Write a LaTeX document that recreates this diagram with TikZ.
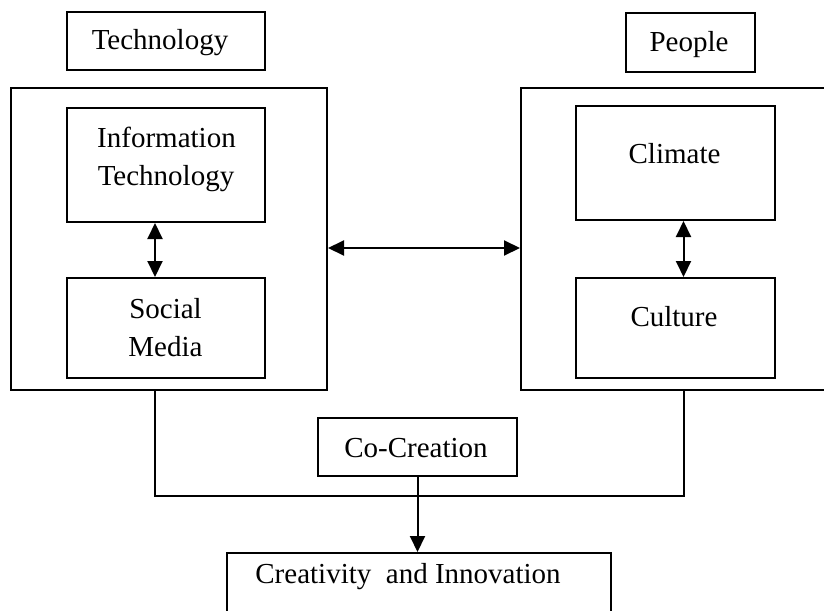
\documentclass[tikz,border=0pt]{standalone}
\usepackage{fontspec}
\setmainfont{Liberation Serif}
\usetikzlibrary{arrows.meta}
\begin{document}
\begin{tikzpicture}[x=1pt,y=-1pt,
  box/.style={draw, line width=2pt, rectangle, inner sep=0pt},
  lbl/.style={font=\fontsize{29}{38}\selectfont, inner sep=0pt, anchor=base},
  link/.style={line width=2pt},
  dblarrow/.style={line width=2pt, {Triangle[length=16pt,width=15pt]}-{Triangle[length=16pt,width=15pt]}},
  onearrow/.style={line width=2pt, -{Triangle[length=16pt,width=15pt]}}]
  \useasboundingbox (0,0) rectangle (824,610);
  \clip (0,0) rectangle (824,610);

  % headings
  \node[box, minimum width=198pt, minimum height=58pt] (tech) at (166,41) {};
  \node[lbl] (techtxt) at (160,50) {Technology};
  \node[box, minimum width=129pt, minimum height=59pt] (people) at (690.5,42.5) {};
  \node[lbl] (peopletxt) at (689,52) {People};

  % outer groups
  \node[box, minimum width=316pt, minimum height=301.5pt] (lout) at (169,238.75) {};
  \node[box, minimum width=319pt, minimum height=301.5pt] (rout) at (680.5,238.75) {};

  % technology side
  \node[box, minimum width=198pt, minimum height=114pt] (it) at (166,165) {};
  \node[lbl] (ittxt1) at (166.5,147) {Information};
  \node[lbl] (ittxt2) at (166,185) {Technology};
  \node[box, minimum width=198pt, minimum height=100pt] (sm) at (166,328) {};
  \node[lbl] (smtxt1) at (165.5,318) {Social};
  \node[lbl] (smtxt2) at (165.5,356) {Media};

  % people side
  \node[box, minimum width=199pt, minimum height=114pt] (clim) at (675.5,163) {};
  \node[lbl] (climtxt) at (674.5,163) {Climate};
  \node[box, minimum width=199pt, minimum height=100pt] (cult) at (675.5,328) {};
  \node[lbl] (culttxt) at (674,326) {Culture};

  % outcome
  \node[box, minimum width=199pt, minimum height=58pt] (cocr) at (417.5,447) {};
  \node[lbl] (cocrtxt) at (416,457) {Co-Creation};
  \node[box, minimum width=384pt, minimum height=87pt] (crea) at (419,596.5) {};
  \node[lbl] (creatxt) at (408,583) {Creativity\ \ and Innovation};

  % routing coordinates
  \coordinate (ltap) at (155,0);
  \coordinate (rtap) at (683.5,0);
  \coordinate (midrow) at (0,248);
  \coordinate (joinrow) at (0,496);

  % connectors
  \draw[dblarrow] (it.south -| ltap) -- (sm.north -| ltap);
  \draw[dblarrow] (clim.south -| rtap) -- (cult.north -| rtap);
  \draw[dblarrow] (lout.east |- midrow) -- (rout.west |- midrow);
  \draw[link] (lout.south -| ltap) -- (joinrow -| ltap) -- (joinrow -| rtap) -- (rout.south -| rtap);
  \draw[onearrow] (cocr.south) -- (crea.north -| cocr.south);
\end{tikzpicture}
\end{document}
